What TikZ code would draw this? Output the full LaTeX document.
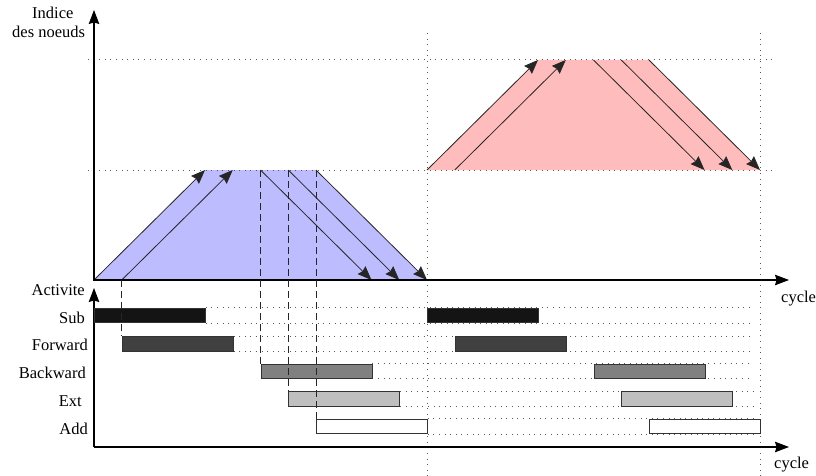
\documentclass[tikz,border=0pt]{standalone}
\usepackage{fontspec}
\setmainfont{Liberation Serif}
\usetikzlibrary{arrows.meta,backgrounds}
\definecolor{blfill}{RGB}{188,188,255}
\definecolor{rdfill}{RGB}{255,188,188}
\definecolor{guide}{RGB}{90,90,90}
\begin{document}
\begin{tikzpicture}[x=1pt,y=-1pt,
  lbl/.style={inner sep=0pt,font=\fontsize{16.5}{19}\selectfont},
  axis/.style={line width=1.1pt,-{Stealth[length=14pt,width=10.5pt,inset=1.5pt]}},
  flow/.style={line width=0.8pt,draw=black!85,-{Stealth[length=14pt,width=11pt,inset=1.5pt]}},
  guideline/.style={draw=guide,line width=1pt,dash pattern=on 1pt off 4.6pt},
  marker/.style={draw=black!85,line width=0.9pt,dash pattern=on 7pt off 4pt},
  bar/.style={draw=black!80,line width=0.8pt,minimum width=111pt,minimum height=14.5pt,inner sep=0pt,anchor=west}]
\useasboundingbox (0,0) rectangle (816,476);
% grid coordinates
\foreach \k in {0,...,24}{
  \coordinate (a\k) at ({94+27.75*\k},280);
  \coordinate (m\k) at ({94+27.75*\k},170);
  \coordinate (t\k) at ({94+27.75*\k},60);
}
\coordinate (rend) at (753,0);
% trapezoids
\fill[blfill] (a0) -- (m4) -- (m8) -- (a12) -- cycle;
\fill[rdfill] (m12) -- (t16) -- (t20) -- (m24) -- cycle;
% guide lines
\coordinate (g1l) at (88,60); \coordinate (g1r) at (773,60);
\coordinate (g2l) at (88,170); \coordinate (g2r) at (773,170);
\coordinate (v1t) at (427,33); \coordinate (v1b) at (427,476);
\coordinate (v2t) at (760,33); \coordinate (v2b) at (760,476);
\draw[guideline] (g1l) -- (g1r);
\draw[guideline] (g2l) -- (g2r);
\draw[guideline] (v1t) -- (v1b);
\draw[guideline] (v2t) -- (v2b);
% flow arrows, first cycle
\draw[flow] (a0) -- (m4);
\draw[flow] (a1) -- (m5);
\draw[flow] (m6) -- (a10);
\draw[flow] (m7) -- (a11);
\draw[flow] (m8) -- (a12);
% flow arrows, second cycle
\draw[flow] (m12) -- (t16);
\draw[flow] (m13) -- (t17);
\draw[flow] (t18) -- (m22);
\draw[flow] (t19) -- (m23);
\draw[flow] (t20) -- (m24);
% axes
\coordinate (o1) at (94,281); \coordinate (y1) at (94,10); \coordinate (x1) at (789,280);
\coordinate (o2) at (94,447); \coordinate (y2) at (94,288); \coordinate (x2) at (789,447);
\draw[axis] (o1) -- (y1);
\draw[axis] (a0) -- (x1);
\draw[axis] (o2) -- (y2);
\draw[line width=1.1pt] (o2) -- ++(-0.5,0);
\draw[axis] (o2) -- (x2);
% bars
\node[bar,fill=black!92] (sub1) at (94,315.5) {};
\node[bar,fill=black!75] (fw1) at ({94+27.75*1},344) {};
\node[bar,fill=black!50] (bw1) at ({94+27.75*6},371.2) {};
\node[bar,fill=black!25] (ext1) at ({94+27.75*7},399) {};
\node[bar,fill=white] (add1) at ({94+27.75*8},426.5) {};
\node[bar,fill=black!92] (sub2) at ({94+27.75*12},315.5) {};
\node[bar,fill=black!75] (fw2) at ({94+27.75*13},344) {};
\node[bar,fill=black!50] (bw2) at ({94+27.75*18},371.2) {};
\node[bar,fill=black!25] (ext2) at ({94+27.75*19},399) {};
\node[bar,fill=white] (add2) at ({94+27.75*20},426.5) {};
\begin{scope}[on background layer]
\foreach \b in {sub1,fw1,bw1,ext1,add1}{
  \draw[guideline] (\b.north east) -- (\b.north east -| rend);
  \draw[guideline] (\b.south east) -- (\b.south east -| rend);
}
\end{scope}
% markers
\draw[marker] (a1) -- (fw1.north west);
\draw[marker] (m6) -- (bw1.north west);
\draw[marker] (m7) -- (ext1.north west);
\draw[marker] (m8) -- (add1.north west);
% labels
\node[lbl,anchor=base west] (l1) at (32,19) {Indice};
\node[lbl,anchor=base west] (l2) at (12,38) {des noeuds};
\node[lbl,anchor=base west] (l3) at (781,302) {cycle};
\node[lbl,anchor=base west] (l4) at (774,468) {cycle};
\node[lbl,anchor=base east] (l5) at (85,295) {Activite};
\node[lbl,anchor=base east] (l6) at (85,323) {Sub};
\node[lbl,anchor=base east] (l7) at (88,350) {Forward};
\node[lbl,anchor=base east] (l8) at (86,378) {Backward};
\node[lbl,anchor=base east] (l9) at (82,406) {Ext};
\node[lbl,anchor=base east] (l10) at (88,434) {Add};
\end{tikzpicture}
\end{document}
